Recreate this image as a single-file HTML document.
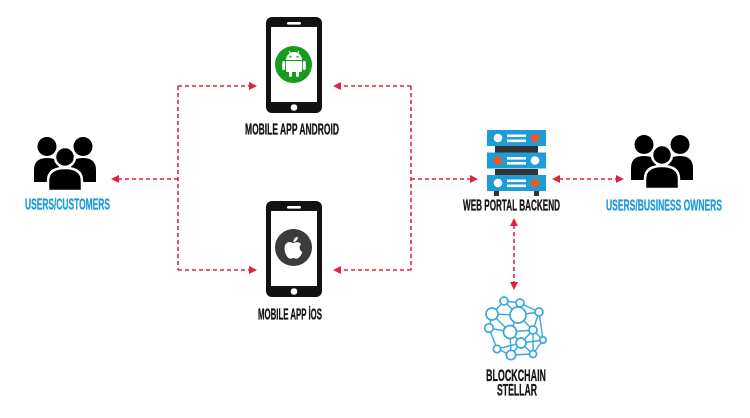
<!DOCTYPE html>
<html>
<head>
<meta charset="utf-8">
<style>
  html,body{margin:0;padding:0;background:#fff;}
  svg{display:block;}
  .lbl{font-family:"Liberation Sans Narrow","Liberation Sans",sans-serif;font-weight:bold;font-size:15.5px;stroke-width:0.35;}
  .blk{fill:#151515;stroke:#151515;}
  .blu{fill:#1f9bd7;stroke:#1f9bd7;}
  .dl{stroke:#e0243f;stroke-width:1.6;stroke-dasharray:4 3;fill:none;}
  .ah{fill:#e0243f;}
  .net line{stroke:#3aa7dc;stroke-width:1.4;}
  .net circle{stroke:#3aa7dc;stroke-width:1.7;fill:#fff;}
</style>
</head>
<body>
<svg width="750" height="418" viewBox="0 0 750 418" xmlns="http://www.w3.org/2000/svg">
  <rect width="750" height="418" fill="#fff"/>

  <!-- ===== Connectors ===== -->
  <line class="dl" x1="178" y1="86" x2="178" y2="270"/>
  <line class="dl" x1="178" y1="86" x2="250" y2="86"/>
  <polygon class="ah" points="257,86 249,82 249,90"/>
  <line class="dl" x1="178" y1="270" x2="250" y2="270"/>
  <polygon class="ah" points="257,270 249,266 249,274"/>
  <line class="dl" x1="178" y1="179" x2="118" y2="179"/>
  <polygon class="ah" points="111,179 119,175 119,183"/>

  <line class="dl" x1="411" y1="86" x2="411" y2="270"/>
  <line class="dl" x1="411" y1="86" x2="340" y2="86"/>
  <polygon class="ah" points="333,86 341,82 341,90"/>
  <line class="dl" x1="411" y1="270" x2="340" y2="270"/>
  <polygon class="ah" points="333,270 341,266 341,274"/>
  <line class="dl" x1="411" y1="179" x2="471" y2="179"/>
  <polygon class="ah" points="478,179 470,175 470,183"/>

  <line class="dl" x1="559" y1="179" x2="617" y2="179"/>
  <polygon class="ah" points="552,179 560,175 560,183"/>
  <polygon class="ah" points="624,179 616,175 616,183"/>

  <line class="dl" x1="514" y1="225" x2="514" y2="283"/>
  <polygon class="ah" points="514,218 510,226 518,226"/>
  <polygon class="ah" points="514,290 510,282 518,282"/>

  <!-- ===== Android phone ===== -->
  <rect x="266" y="17" width="56" height="96" rx="6" fill="#111"/>
  <rect x="271" y="27" width="46" height="75" fill="#fff"/>
  <rect x="287" y="22" width="14" height="2.6" rx="1.3" fill="#fff"/>
  <circle cx="294" cy="107.5" r="3.3" fill="#fff"/>
  <circle cx="293.5" cy="64.5" r="18.5" fill="#179a1f"/>
  <path d="M286,60 A8,8 0 0 1 302,60 Z" fill="#fff"/>
  <line x1="289" y1="51" x2="290.5" y2="53.5" stroke="#fff" stroke-width="1"/>
  <line x1="299" y1="51" x2="297.5" y2="53.5" stroke="#fff" stroke-width="1"/>
  <circle cx="290.5" cy="56.8" r="1" fill="#179a1f"/>
  <circle cx="297.5" cy="56.8" r="1" fill="#179a1f"/>
  <path d="M286,61 H302 V70.5 Q302,72 300.5,72 H287.5 Q286,72 286,70.5 Z" fill="#fff"/>
  <rect x="282.2" y="61" width="3" height="9" rx="1.5" fill="#fff"/>
  <rect x="302.8" y="61" width="3" height="9" rx="1.5" fill="#fff"/>
  <rect x="289" y="70" width="3" height="7" rx="1.5" fill="#fff"/>
  <rect x="296" y="70" width="3" height="7" rx="1.5" fill="#fff"/>
  <text class="lbl blk" x="245" y="134.5" textLength="94" lengthAdjust="spacingAndGlyphs">MOBILE APP ANDROID</text>

  <!-- ===== iOS phone ===== -->
  <rect x="266" y="201" width="56" height="96" rx="6" fill="#111"/>
  <rect x="271" y="211" width="46" height="75" fill="#fff"/>
  <rect x="287" y="206" width="14" height="2.6" rx="1.3" fill="#fff"/>
  <circle cx="294" cy="291.5" r="3.3" fill="#fff"/>
  <circle cx="293.5" cy="247.5" r="18.5" fill="#3b3b3b"/>
  <path d="M293.5,243.3 C291,241.5 286.5,241.3 285,245.5 C283.5,250 286,256.5 289,258.3 C290.8,259.3 292,258 293.5,258 C295,258 296.2,259.3 298,258.3 C300,257.2 301.6,254.5 302.3,252 C299.3,250.6 298.6,246.3 301.2,244.3 C299.2,241.4 295.5,241.8 293.5,243.3 Z" fill="#fff"/>
  <path d="M293.5,242 C293.3,239.2 295.3,237 297.8,236.8 C298,239.6 296,241.9 293.5,242 Z" fill="#fff"/>
  <text class="lbl blk" x="258" y="319.5" textLength="64" lengthAdjust="spacingAndGlyphs">MOBILE APP İOS</text>

  <!-- ===== Users / Customers ===== -->
  <g transform="translate(-597,2)">
    <circle cx="644" cy="144.5" r="9.5" fill="#000"/>
    <circle cx="680" cy="144.5" r="9.5" fill="#000"/>
    <path d="M631,180 V168 Q631,156 644,156 Q652,156 656,160 V180 Z" fill="#000"/>
    <path d="M693,180 V168 Q693,156 680,156 Q672,156 668,160 V180 Z" fill="#000"/>
    <path d="M645,189 V179 Q645,166 662,166 Q679,166 679,179 V189 Z" fill="#000" stroke="#fff" stroke-width="2.5"/>
    <circle cx="662" cy="155" r="10" fill="#000" stroke="#fff" stroke-width="2.5"/>
  </g>
  <text class="lbl blu" x="25" y="209.5" textLength="85" lengthAdjust="spacingAndGlyphs">USERS/CUSTOMERS</text>

  <!-- ===== Users / Business owners ===== -->
  <g>
    <circle cx="644" cy="144.5" r="9.5" fill="#000"/>
    <circle cx="680" cy="144.5" r="9.5" fill="#000"/>
    <path d="M631,180 V168 Q631,156 644,156 Q652,156 656,160 V180 Z" fill="#000"/>
    <path d="M693,180 V168 Q693,156 680,156 Q672,156 668,160 V180 Z" fill="#000"/>
    <path d="M645,189 V179 Q645,166 662,166 Q679,166 679,179 V189 Z" fill="#000" stroke="#fff" stroke-width="2.5"/>
    <circle cx="662" cy="155" r="10" fill="#000" stroke="#fff" stroke-width="2.5"/>
  </g>
  <text class="lbl blu" x="606" y="210.5" textLength="116" lengthAdjust="spacingAndGlyphs">USERS/BUSINESS OWNERS</text>

  <!-- ===== Server ===== -->
  <rect x="495" y="146" width="43" height="7" fill="#333"/>
  <rect x="495" y="169" width="43" height="7" fill="#333"/>
  <rect x="494" y="191" width="5" height="5" fill="#333"/>
  <rect x="534" y="191" width="5" height="5" fill="#333"/>
  <rect x="487" y="130" width="59" height="16" fill="#1e9cd8"/>
  <rect x="487" y="152.5" width="59" height="16" fill="#1e9cd8"/>
  <rect x="487" y="175" width="59" height="16" fill="#1e9cd8"/>
  <circle cx="498" cy="138" r="4.3" fill="#fff"/>
  <circle cx="535" cy="138" r="4.3" fill="#f05a22"/>
  <rect x="507" y="134.5" width="19" height="2.6" fill="#fff"/>
  <rect x="507" y="139.5" width="19" height="2.6" fill="#fff"/>
  <circle cx="498" cy="160.5" r="4.3" fill="#f05a22"/>
  <circle cx="535" cy="160.5" r="4.3" fill="#fff"/>
  <rect x="507" y="157" width="19" height="2.6" fill="#fff"/>
  <rect x="507" y="162" width="19" height="2.6" fill="#fff"/>
  <circle cx="498" cy="183" r="4.3" fill="#fff"/>
  <circle cx="535" cy="183" r="4.3" fill="#f05a22"/>
  <rect x="507" y="179.5" width="19" height="2.6" fill="#fff"/>
  <rect x="507" y="184.5" width="19" height="2.6" fill="#fff"/>
  <text class="lbl blk" x="463" y="210.5" textLength="97" lengthAdjust="spacingAndGlyphs">WEB PORTAL BACKEND</text>

  <!-- ===== Blockchain network ===== -->
  <g class="net">
    <line x1="504" y1="301" x2="520" y2="303"/>
    <line x1="504" y1="301" x2="492" y2="314"/>
    <line x1="504" y1="301" x2="518" y2="315"/>
    <line x1="520" y1="303" x2="518" y2="315"/>
    <line x1="520" y1="303" x2="539" y2="312"/>
    <line x1="492" y1="314" x2="518" y2="315"/>
    <line x1="492" y1="314" x2="489" y2="328"/>
    <line x1="492" y1="314" x2="510" y2="332"/>
    <line x1="518" y1="315" x2="539" y2="312"/>
    <line x1="518" y1="315" x2="510" y2="332"/>
    <line x1="518" y1="315" x2="533" y2="330"/>
    <line x1="539" y1="312" x2="533" y2="330"/>
    <line x1="539" y1="312" x2="543" y2="340"/>
    <line x1="489" y1="328" x2="510" y2="332"/>
    <line x1="489" y1="328" x2="497" y2="349"/>
    <line x1="510" y1="332" x2="521" y2="343"/>
    <line x1="510" y1="332" x2="511" y2="355"/>
    <line x1="510" y1="332" x2="533" y2="330"/>
    <line x1="533" y1="330" x2="521" y2="343"/>
    <line x1="533" y1="330" x2="543" y2="340"/>
    <line x1="533" y1="330" x2="533" y2="354"/>
    <line x1="521" y1="343" x2="511" y2="355"/>
    <line x1="521" y1="343" x2="533" y2="354"/>
    <line x1="521" y1="343" x2="543" y2="340"/>
    <line x1="543" y1="340" x2="533" y2="354"/>
    <line x1="497" y1="349" x2="511" y2="355"/>
    <line x1="497" y1="349" x2="521" y2="343"/>
    <line x1="511" y1="355" x2="533" y2="354"/>
    <circle cx="504" cy="301" r="4"/>
    <circle cx="520" cy="303" r="4"/>
    <circle cx="492" cy="314" r="6"/>
    <circle cx="518" cy="315" r="8"/>
    <circle cx="539" cy="312" r="4"/>
    <circle cx="489" cy="328" r="4.3"/>
    <circle cx="510" cy="332" r="6.5"/>
    <circle cx="533" cy="330" r="4"/>
    <circle cx="543" cy="340" r="3.2"/>
    <circle cx="521" cy="343" r="5"/>
    <circle cx="497" cy="349" r="3.7"/>
    <circle cx="511" cy="355" r="4.7"/>
    <circle cx="533" cy="354" r="3.5"/>
  </g>
  <text class="lbl blk" x="486" y="381" textLength="60" lengthAdjust="spacingAndGlyphs" style="font-size:16.5px">BLOCKCHAIN</text>
  <text class="lbl blk" x="497" y="395.5" textLength="40" lengthAdjust="spacingAndGlyphs" style="font-size:16.5px">STELLAR</text>
</svg>
</body>
</html>
